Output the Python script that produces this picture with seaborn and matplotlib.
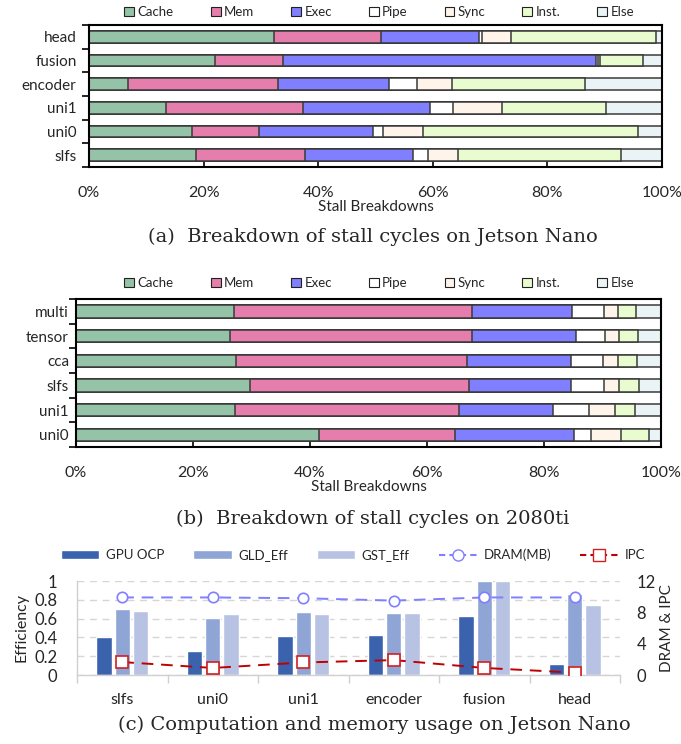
import numpy as np
import pandas as pd
import matplotlib
matplotlib.use('Agg')
import matplotlib.pyplot as plt
from matplotlib.patches import Patch
from matplotlib.lines import Line2D
from matplotlib.ticker import FixedLocator
import seaborn as sns

# stall categories shared by (a) and (b)
stall_types = ['Cache', 'Mem', 'Exec', 'Pipe', 'Sync', 'Inst.', 'Else']
stall_colors = ['#95C3A8', '#E57EAC', '#7F7FFF', '#FFFFFF', '#FEF4EA', '#E9FCCF', '#EAF3F6']

# (a) Jetson Nano, percent of stall cycles
nano_benches = ['head', 'fusion', 'encoder', 'uni1', 'uni0', 'slfs']
nano_cache = [32.2, 22.0, 6.8, 13.5, 17.9, 18.7]
nano_mem = [18.8, 11.8, 26.1, 23.9, 11.8, 19.0]
nano_exec = [17.0, 54.6, 19.5, 22.1, 19.8, 18.9]
nano_pipe = [0.6, 0.5, 4.8, 4.1, 1.8, 2.6]
nano_sync = [5.1, 0.3, 6.1, 8.4, 7.0, 5.2]
nano_inst = [25.3, 7.4, 23.2, 18.3, 37.5, 28.4]
nano_else = [1.0, 3.4, 13.5, 9.7, 4.2, 7.2]

# (b) 2080ti, percent of stall cycles
ti_benches = ['multi', 'tensor', 'cca', 'slfs', 'uni1', 'uni0']
ti_cache = [27.0, 26.4, 27.4, 29.8, 27.2, 41.5]
ti_mem = [40.7, 41.3, 39.5, 37.4, 38.3, 23.3]
ti_exec = [17.1, 17.7, 17.8, 17.5, 16.1, 20.4]
ti_pipe = [5.4, 5.0, 5.3, 5.6, 6.1, 2.8]
ti_sync = [2.4, 2.5, 2.6, 2.6, 4.5, 5.2]
ti_inst = [3.2, 3.2, 3.3, 3.3, 3.4, 4.7]
ti_else = [4.2, 3.9, 4.1, 3.8, 4.4, 2.1]

# (c) computation and memory usage on Jetson Nano
usage_benches = ['slfs', 'uni0', 'uni1', 'encoder', 'fusion', 'head']
gpu_ocp = [0.40, 0.26, 0.42, 0.43, 0.63, 0.12]
gld_eff = [0.70, 0.61, 0.67, 0.66, 1.00, 0.86]
gst_eff = [0.68, 0.65, 0.65, 0.66, 1.00, 0.75]
dram_mb = [9.9, 9.9, 9.8, 9.5, 9.9, 9.9]
ipc = [1.65, 0.9, 1.6, 1.9, 0.9, 0.3]

SANS = 'Lato'
SERIF = 'DejaVu Serif'

sns.set_theme(style='white')
plt.rcParams['font.family'] = [SANS, 'DejaVu Sans']


def draw_stack(ax, benches, parts, ypad):
    df = pd.DataFrame(np.array(parts).T, columns=stall_types)
    cum = df.cumsum(axis=1)
    cum['bench'] = benches
    # draw cumulative totals from the longest down so each segment shows
    for name, color in reversed(list(zip(stall_types, stall_colors))):
        sns.barplot(data=cum, x=name, y='bench', orient='h', color=color,
                    saturation=1, width=0.5, edgecolor='#3A3A3A', linewidth=1.1, ax=ax)
    ax.set_xlim(0, 100)
    ax.set_ylim(len(benches) - 0.5, -0.5)
    ax.set_xticks(range(0, 101, 20))
    ax.set_xticklabels([f'{v}%' for v in range(0, 101, 20)])
    ax.yaxis.set_minor_locator(FixedLocator(np.arange(-0.5, len(benches), 1)))
    ax.tick_params(axis='y', which='major', length=0, pad=ypad, labelsize=11)
    ax.tick_params(axis='y', which='minor', left=True, length=5, width=1.2, direction='out', color='black')
    ax.tick_params(axis='x', which='major', bottom=True, length=5, width=1.2, direction='in',
                   pad=14, labelsize=11.5, color='black')
    ax.set_xlabel('Stall Breakdowns', fontsize=11, labelpad=0)
    ax.set_ylabel('')
    for s in ax.spines.values():
        s.set_visible(True)
        s.set_color('black')
        s.set_linewidth(1.5)


def stack_legend(fig, y):
    handles = [Patch(facecolor=c, edgecolor='#222222', linewidth=0.8) for c in stall_colors]
    fig.legend(handles, stall_types, loc='center', bbox_to_anchor=(0.557, y), ncol=7,
               frameon=False, fontsize=9.5, handlelength=0.75, handleheight=0.75,
               handletextpad=0.25, columnspacing=2.8)


fig = plt.figure(figsize=(6.81, 7.44), dpi=100)
W, H = 681, 744


def add_axes(x0, x1, y0, y1):
    return fig.add_axes([x0 / W, 1 - y1 / H, (x1 - x0) / W, (y1 - y0) / H])


# (a)
ax_a = add_axes(89, 662, 25, 167)
draw_stack(ax_a, nano_benches,
           [nano_cache, nano_mem, nano_exec, nano_pipe, nano_sync, nano_inst, nano_else], 9)
stack_legend(fig, 1 - 12 / H)
fig.text(0.547, 1 - 237 / H, '(a)  Breakdown of stall cycles on Jetson Nano',
         ha='center', va='center', fontsize=14, family=SERIF)

# (b)
ax_b = add_axes(76, 661, 299, 447)
draw_stack(ax_b, ti_benches,
           [ti_cache, ti_mem, ti_exec, ti_pipe, ti_sync, ti_inst, ti_else], 5)
stack_legend(fig, 1 - 283 / H)
fig.text(0.547, 1 - 519 / H, '(b)  Breakdown of stall cycles on 2080ti',
         ha='center', va='center', fontsize=14, family=SERIF)

# (c)
ax_c = add_axes(77, 620, 581, 675)
bar_names = ['GPU OCP', 'GLD_Eff', 'GST_Eff']
bar_colors = ['#3A62AD', '#8FA5D6', '#B8C3E3']
long = pd.DataFrame({
    'bench': usage_benches * 3,
    'metric': [n for n in bar_names for _ in usage_benches],
    'value': gpu_ocp + gld_eff + gst_eff,
})
sns.barplot(data=long, x='bench', y='value', hue='metric', palette=bar_colors,
            saturation=1, width=0.6, gap=0.15, legend=False, ax=ax_c)
ax_c.set_ylim(0, 1)
ax_c.set_xlim(-0.5, len(usage_benches) - 0.5)
ax_c.set_yticks(np.arange(0, 1.01, 0.2))
ax_c.set_yticklabels(['0', '0.2', '0.4', '0.6', '0.8', '1'])
ax_c.yaxis.grid(True, linestyle=(0, (5, 4)), color='#D6D6D6', linewidth=1)
ax_c.set_axisbelow(True)
ax_c.xaxis.set_minor_locator(FixedLocator(np.arange(-0.5, len(usage_benches), 1)))
ax_c.tick_params(axis='x', which='major', length=0, pad=13, labelsize=11.5)
ax_c.tick_params(axis='x', which='minor', bottom=True, length=6, width=1, direction='out', color='#D0D0D0')
ax_c.tick_params(axis='y', length=0, pad=14, labelsize=12)
ax_c.set_xlabel('')
ax_c.set_ylabel('Efficiency', fontsize=11.5, labelpad=4)
for side in ['top', 'right']:
    ax_c.spines[side].set_visible(False)
for side in ['left', 'bottom']:
    ax_c.spines[side].set_visible(True)
    ax_c.spines[side].set_color('#D0D0D0')
    ax_c.spines[side].set_linewidth(1)

ax_r = ax_c.twinx()
xs = np.arange(len(usage_benches))
ax_r.plot(xs, dram_mb, linestyle=(0, (6, 4)), color='#7F7FFF', linewidth=1.4,
          marker='o', markersize=7.5, markerfacecolor='white', markeredgecolor='#7F7FFF',
          markeredgewidth=1.2, zorder=5)
ax_r.plot(xs, ipc, linestyle=(0, (6, 4)), color='#C00000', linewidth=1.4,
          marker='s', markersize=8, markerfacecolor='white', markeredgecolor='#D02020',
          markeredgewidth=1.2, zorder=5)
ax_r.set_ylim(0, 12)
ax_r.set_yticks([0, 4, 8, 12])
ax_r.tick_params(axis='y', length=0, pad=12, labelsize=12)
ax_r.set_ylabel('DRAM & IPC', fontsize=11, labelpad=3)
for s in ax_r.spines.values():
    s.set_visible(False)
ax_r.grid(False)

legend_handles = [Patch(facecolor=c) for c in bar_colors] + [
    Line2D([], [], linestyle=(0, (3, 2)), color='#7F7FFF', marker='o', markersize=8,
           markerfacecolor='white', markeredgecolor='#7F7FFF'),
    Line2D([], [], linestyle=(0, (3, 2)), color='#C00000', marker='s', markersize=8,
           markerfacecolor='white', markeredgecolor='#D02020'),
]
fig.legend(legend_handles, bar_names + ['DRAM(MB)', 'IPC'], loc='center',
           bbox_to_anchor=(0.519, 1 - 555 / H), ncol=5, frameon=False, fontsize=9.5,
           handlelength=2.9, handleheight=0.6, handletextpad=0.5, columnspacing=2.2)
fig.text(0.55, 1 - 725 / H, '(c) Computation and memory usage on Jetson Nano',
         ha='center', va='center', fontsize=14, family=SERIF)

fig.savefig('out.png', dpi=100)
